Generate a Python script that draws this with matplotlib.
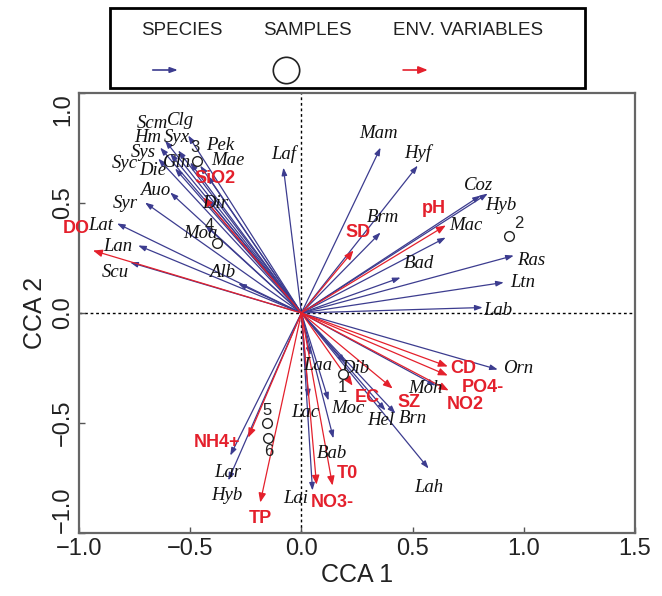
#!/usr/bin/env python3
import matplotlib
matplotlib.use("Agg")
import matplotlib.pyplot as plt
from matplotlib.patches import Rectangle

# species scores (arrow tips)
species = ["Scm", "Clg", "Hm", "Syx", "Sys", "Syc", "Gln", "Pek", "Mae", "Die",
           "Dir", "Auo", "Syr", "Lat", "Lan", "Scu", "Moa", "Alb", "Laf", "Mam",
           "Hyf", "Coz", "Hyb", "Mac", "Brm", "Bad", "Ras", "Ltn", "Lab", "Orn",
           "Moh", "Brn", "Hel", "Lah", "Dib", "Laa", "Moc", "Lac", "Bab", "Lai",
           "Lar", "Hyb"]
species_x = [-0.613, -0.509, -0.635, -0.554, -0.590, -0.644, -0.500, -0.455, -0.423, -0.568,
             -0.423, -0.590, -0.703, -0.829, -0.734, -0.770, -0.432, -0.284, -0.081, 0.356,
             0.523, 0.806, 0.838, 0.649, 0.356, 0.446, 0.955, 0.910, 0.815, 0.883,
             0.604, 0.423, 0.378, 0.572, 0.198, 0.040, 0.122, 0.032, 0.144, 0.050,
             -0.320, -0.329]
species_y = [0.784, 0.807, 0.752, 0.739, 0.725, 0.702, 0.684, 0.670, 0.625, 0.657,
             0.520, 0.548, 0.502, 0.407, 0.307, 0.230, 0.398, 0.134, 0.661, 0.752,
             0.670, 0.534, 0.543, 0.343, 0.366, 0.161, 0.261, 0.139, 0.025, -0.257,
             -0.330, -0.457, -0.443, -0.707, -0.225, -0.193, -0.398, -0.384, -0.570, -0.807,
             -0.648, -0.761]

# environmental variables
env = ["DO", "SiO2", "SD", "pH", "CD", "PO4-", "NO2", "SZ", "EC", "T0", "NO3-", "TP", "NH4+"]
env_x = [-0.937, -0.441, 0.234, 0.649, 0.658, 0.658, 0.662, 0.410, 0.230, 0.140, 0.068, -0.185, -0.239]
env_y = [0.284, 0.525, 0.284, 0.398, -0.243, -0.284, -0.352, -0.343, -0.330, -0.784, -0.780, -0.861, -0.566]

# samples
samples = ["1", "2", "3", "4", "5", "6"]
sample_x = [0.185, 0.932, -0.468, -0.378, -0.153, -0.149]
sample_y = [-0.275, 0.352, 0.693, 0.316, -0.498, -0.566]

# label offsets in pixels (dx right, dy up)
sp_off = [(-13, 17), (-8, 15), (-12, 10), (-1, 13), (-27, 1), (-33, -5), (-13, 0), (20, 20),
          (21, 15), (-22, -2), (8, -5), (-15, 2), (-20, -1), (-16, -2), (-20, -1), (-15, -10),
          (-5, -8), (-16, 11), (0, 14), (-2, 14), (0, 13), (-2, 10), (13, -12), (20, 12),
          (2, 15), (18, 14), (17, -5), (19, 0), (15, -3), (20, 1), (-10, -3), (17, -5),
          (-5, -10), (0, -19), (10, -6), (7, -10), (19, -8), (-3, -15), (-1, -15), (-17, -8),
          (-3, -17), (-1, -15)]
env_off = [(-17, 22), (12, 19), (5, 18), (-12, 17), (16, -2), (35, -12), (17, -14),
           (16, -14), (15, -12), (15, 12), (16, -18), (0, -16), (-31, -5)]
smp_off = [(0, -14), (10, 12), (-2, 13), (-8, 18), (0, 12), (0, -14)]

BLUE = "#3c3c8f"
RED = "#e4202c"
PX = 0.72  # pixels -> points at dpi 100


def main():
    fig = plt.figure(figsize=(6.62, 5.96), dpi=100)
    ax = fig.add_axes([79 / 662, 63 / 596, 556 / 662, 440 / 596])
    ax.set_xlim(-1.0, 1.5)
    ax.set_ylim(-1.0, 1.0)

    ax.axhline(0, color="black", lw=1, ls=(0, (2, 2)), zorder=1)
    ax.axvline(0, color="black", lw=1, ls=(0, (2, 2)), zorder=1)

    # species arrows
    for name, x, y, (dx, dy) in zip(species, species_x, species_y, sp_off):
        ax.annotate("", xy=(x, y), xytext=(0, 0),
                    arrowprops=dict(arrowstyle="-|>,head_length=0.45,head_width=0.16",
                                    color=BLUE, lw=0.9, shrinkA=0, shrinkB=0), zorder=2)
        ax.annotate(name, xy=(x, y), xytext=(dx * PX, dy * PX), textcoords="offset points",
                    ha="center", va="center", fontsize=13.5, fontstyle="italic",
                    family="Liberation Serif", color="#111111", zorder=4)

    # env arrows
    for name, x, y, (dx, dy) in zip(env, env_x, env_y, env_off):
        ax.annotate("", xy=(x, y), xytext=(0, 0),
                    arrowprops=dict(arrowstyle="-|>,head_length=0.55,head_width=0.22",
                                    color=RED, lw=0.9, shrinkA=0, shrinkB=0), zorder=3)
        ax.annotate(name, xy=(x, y), xytext=(dx * PX, dy * PX), textcoords="offset points",
                    ha="center", va="center", fontsize=13, fontweight="bold",
                    family="Liberation Sans", color=RED, zorder=5)

    # samples
    ax.plot(sample_x, sample_y, "o", ms=7, mfc="white", mec="#222222", mew=1, zorder=4)
    for name, x, y, (dx, dy) in zip(samples, sample_x, sample_y, smp_off):
        ax.annotate(name, xy=(x, y), xytext=(dx * PX, dy * PX), textcoords="offset points",
                    ha="center", va="center", fontsize=12, family="Liberation Sans",
                    color="#222222", zorder=5)

    ax.set_xticks([-1.0, -0.5, 0.0, 0.5, 1.0, 1.5])
    ax.set_yticks([-1.0, -0.5, 0.0, 0.5, 1.0])
    ax.set_xticklabels(["\u22121.0", "\u22120.5", "0.0", "0.5", "1.0", "1.5"],
                       family="Liberation Sans", fontsize=17)
    ylabs = ax.set_yticklabels(["\u22121.0", "\u22120.5", "0.0", "0.5", "1.0"],
                               family="Liberation Sans", fontsize=17, rotation=90, va="center")
    # end labels sit inside the axis range, as R draws them
    ylabs[0].set_va("bottom")
    ylabs[-1].set_va("top")
    ax.tick_params(direction="in", length=4, width=1, colors="#555555", labelcolor="#222222")
    ax.set_xlabel("CCA 1", family="Liberation Sans", fontsize=18, color="#222222", labelpad=2)
    ax.set_ylabel("CCA 2", family="Liberation Sans", fontsize=18, color="#222222", labelpad=4)
    for s in ax.spines.values():
        s.set_color("#666666")
        s.set_linewidth(1.6)

    # legend box
    lg = fig.add_axes([110 / 662, 1 - 88 / 596, 475 / 662, 80 / 596])
    lg.set_xlim(0, 1)
    lg.set_ylim(0, 1)
    lg.axis("off")
    lg.add_patch(Rectangle((0, 0), 1, 1, transform=lg.transAxes, fill=False,
                           ec="black", lw=2, clip_on=False))
    for label, cx in zip(["SPECIES", "SAMPLES", "ENV. VARIABLES"], [0.152, 0.415, 0.754]):
        lg.text(cx, 0.72, label, ha="center", va="center", fontsize=13.5,
                family="Liberation Sans", color="#222222")
    lg.annotate("", xy=(0.143, 0.225), xytext=(0.09, 0.225),
                arrowprops=dict(arrowstyle="-|>,head_length=0.45,head_width=0.16",
                                color=BLUE, lw=1.2, shrinkA=0, shrinkB=0))
    lg.plot([0.37], [0.225], "o", ms=19, mfc="white", mec="#222222", mew=1.2)
    lg.annotate("", xy=(0.669, 0.225), xytext=(0.617, 0.225),
                arrowprops=dict(arrowstyle="-|>,head_length=0.55,head_width=0.22",
                                color=RED, lw=1.2, shrinkA=0, shrinkB=0))

    fig.savefig("out.png", dpi=100)


if __name__ == "__main__":
    main()
